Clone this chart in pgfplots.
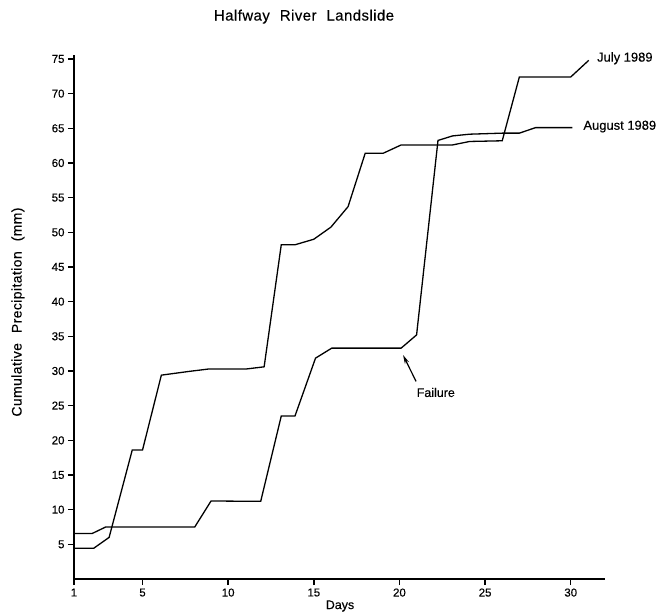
\documentclass[border=0pt]{standalone}
\usepackage{fontspec}
\setmainfont{Liberation Sans}[FakeBold=0.35]
\usepackage{pgfplots}
\pgfplotsset{compat=1.18}
\usetikzlibrary{arrows.meta}
\begin{document}
\begin{tikzpicture}
\begin{axis}[
  at={(0,0)}, anchor=south west,
  scale only axis, width=531bp, height=523.5bp,
  xmin=1, xmax=32, ymin=0, ymax=75.5,
  axis lines=left, axis line style={-, line width=1.2bp},
  xtick={1,5,10,15,20,25,30}, ytick={5,10,...,75},
  tick align=outside, major tick length=6bp,
  tick style={line width=1.4bp, black},
  tick label style={font=\fontsize{11.5}{13}\selectfont},
  /pgf/number format/assume math mode=true,
  clip=false,
]
% July 1989
\addplot[black, line width=1.3bp] coordinates {
(1,4.43) (2.15,4.43) (3.05,6.0) (4.4,18.6) (5.0,18.6) (6.1,29.4) (7.6,29.9)
(8.9,30.3) (11.1,30.3) (12.1,30.6) (13.1,48.2) (13.9,48.2) (15.0,49.0)
(16.0,50.75) (17.0,53.7) (18.0,61.4) (19.05,61.4) (20.1,62.6) (23.1,62.6)
(24.1,63.1) (26.0,63.2) (27.0,72.4) (30.0,72.4) (31.05,74.8)
};
% August 1989
\addplot[black, line width=1.3bp] coordinates {
(1,6.55) (2.05,6.55) (2.85,7.5) (8.05,7.5) (9.0,11.25) (11.9,11.2)
(13.1,23.5) (13.9,23.5) (15.1,31.85) (16.05,33.3) (20.1,33.3) (21.0,35.2)
(22.25,63.25) (23.1,63.9) (24.1,64.15) (26.0,64.3) (27.0,64.3) (27.95,65.1) (30.1,65.1)
};
\node[font=\fontsize{15}{17}\selectfont\addfontfeature{LetterSpace=3}] at (axis cs:14.43,81.1) {Halfway\hspace{10bp}River\hspace{10bp}Landslide};
\node[font=\fontsize{14}{16}\selectfont\addfontfeature{LetterSpace=3}, rotate=90] at (axis cs:-2.27,38.5) {Cumulative\hspace{10bp}Precipitation\hspace{10bp}(mm)};
\node[font=\fontsize{12.5}{14}\selectfont] at (axis cs:16.53,-3.9) {Days};
\node[font=\fontsize{13}{15}\selectfont, anchor=west, inner sep=0pt] at (axis cs:31.53,75.1) {July 1989};
\node[font=\fontsize{13}{15}\selectfont, anchor=west, inner sep=0pt] at (axis cs:30.73,65.25) {August 1989};
\node[font=\fontsize{12.5}{14}\selectfont, anchor=west, inner sep=0pt] at (axis cs:21.0,26.9) {Failure};
\draw[line width=1.2bp, -{Stealth[length=9bp,width=4.5bp]}] (axis cs:20.97,28.5) -- (axis cs:20.21,32.3);
\end{axis}
\pgfresetboundingbox
\useasboundingbox (-74bp,-36bp) rectangle (584bp,579bp);
\end{tikzpicture}
\end{document}
